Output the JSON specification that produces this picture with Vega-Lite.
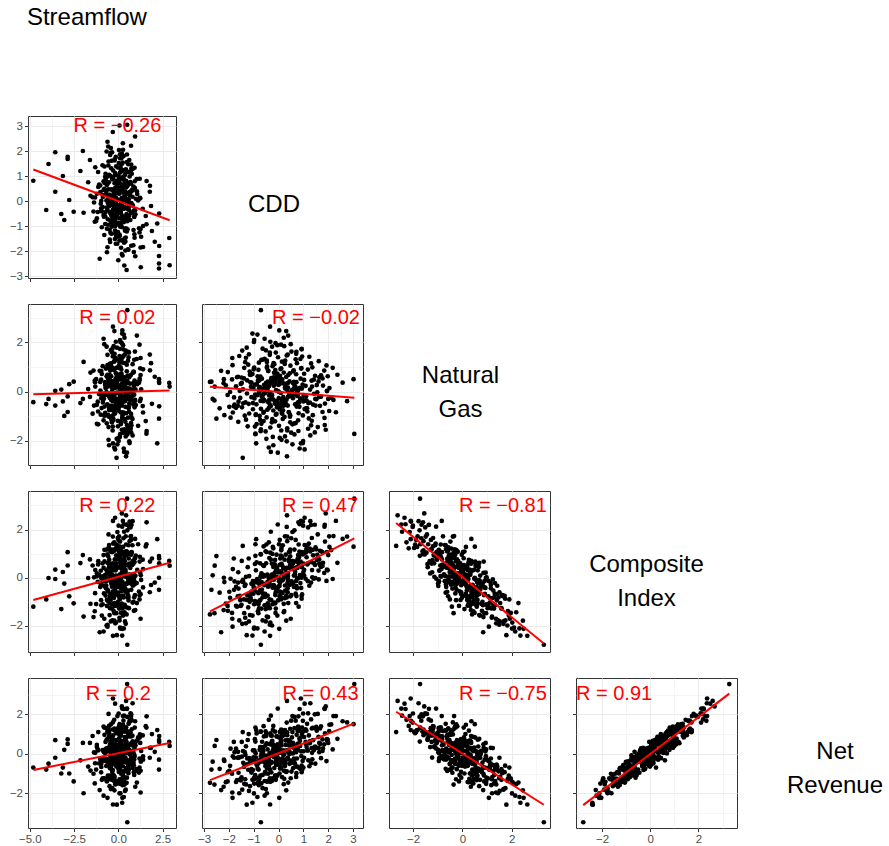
{
"$schema": "https://vega.github.io/schema/vega-lite/v6.json",
"padding": {"left": 8, "top": 5, "right": 0, "bottom": 0},
"background": "white",
"title": {"text": "Streamflow", "anchor": "start", "fontSize": 24, "font": "Liberation Sans", "fontWeight": "normal", "color": "black", "offset": 86, "dx": 18},
"config": {
  "font": "Liberation Sans",
  "view": {"stroke": "#333333", "strokeWidth": 1},
  "axis": {"domain": false, "title": null, "gridColor": "#ebebeb", "tickColor": "#333333", "tickSize": 3.5, "tickWidth": 1, "labelColor": "#4d4d4d", "labelFontSize": 11.5, "labelFont": "Liberation Sans", "labelPadding": 2, "labelOverlap": false, "labelFlush": false, "labelBound": false}
},
"datasets": {"obs": [
{"sf":0.15,"cdd":0.42,"gas":-0.85,"ci":1.07,"nr":0.66},
{"sf":0.52,"cdd":-1.13,"gas":0.37,"ci":-0.81,"nr":-0.33},
{"sf":-0.31,"cdd":0.95,"gas":1.42,"ci":-0.69,"nr":-0.82},
{"sf":0.08,"cdd":-0.27,"gas":-0.12,"ci":0.13,"nr":0.62},
{"sf":0.62,"cdd":1.64,"gas":0.58,"ci":0.59,"nr":0.08},
{"sf":0.34,"cdd":-0.71,"gas":-1.53,"ci":0.97,"nr":1.12},
{"sf":-0.45,"cdd":0.08,"gas":0.91,"ci":-0.67,"nr":-0.70},
{"sf":0.72,"cdd":2.21,"gas":-0.34,"ci":1.73,"nr":1.91},
{"sf":-0.61,"cdd":-1.85,"gas":1.07,"ci":-2.03,"nr":-2.23},
{"sf":-0.05,"cdd":0.56,"gas":-2.14,"ci":1.90,"nr":1.91},
{"sf":0.88,"cdd":-0.38,"gas":0.22,"ci":-0.04,"nr":-0.59},
{"sf":-0.18,"cdd":1.12,"gas":-0.67,"ci":1.19,"nr":1.17},
{"sf":0.27,"cdd":-0.05,"gas":1.88,"ci":-1.57,"nr":-1.11},
{"sf":0.93,"cdd":0.79,"gas":0.05,"ci":0.81,"nr":1.33},
{"sf":0.05,"cdd":-1.42,"gas":-0.48,"ci":-0.18,"nr":-0.46},
{"sf":-0.22,"cdd":0.31,"gas":2.45,"ci":-1.78,"nr":-1.85},
{"sf":-0.74,"cdd":-0.92,"gas":-0.95,"ci":-0.14,"nr":0.03},
{"sf":0.56,"cdd":1.47,"gas":0.64,"ci":0.53,"nr":0.37},
{"sf":0.12,"cdd":-0.14,"gas":-1.21,"ci":0.74,"nr":1.12},
{"sf":0.41,"cdd":0.63,"gas":0.29,"ci":0.33,"nr":-0.30},
{"sf":-1.05,"cdd":-2.31,"gas":0.84,"ci":-2.26,"nr":-1.84},
{"sf":-0.38,"cdd":0.19,"gas":-0.58,"ci":0.41,"nr":0.17},
{"sf":0.49,"cdd":1.86,"gas":-1.36,"ci":2.20,"nr":2.28},
{"sf":0.19,"cdd":-0.56,"gas":1.33,"ci":-1.14,"nr":-1.38},
{"sf":-0.67,"cdd":0.02,"gas":-0.02,"ci":-0.14,"nr":0.27},
{"sf":-0.93,"cdd":-1.05,"gas":0.71,"ci":-1.57,"nr":-1.32},
{"sf":0.22,"cdd":0.87,"gas":-0.29,"ci":1.00,"nr":0.40},
{"sf":-0.14,"cdd":-0.33,"gas":2.02,"ci":-1.86,"nr":-1.42},
{"sf":0.81,"cdd":1.28,"gas":-1.78,"ci":2.35,"nr":2.56},
{"sf":0.46,"cdd":-0.78,"gas":0.13,"ci":-0.25,"nr":-0.38},
{"sf":0.03,"cdd":0.48,"gas":1.05,"ci":-0.77,"nr":-0.34},
{"sf":0.28,"cdd":-1.61,"gas":-0.41,"ci":-0.45,"nr":-0.96},
{"sf":0.95,"cdd":2.58,"gas":0.36,"ci":1.61,"nr":1.65},
{"sf":-0.26,"cdd":-0.21,"gas":-0.77,"ci":0.45,"nr":0.46},
{"sf":0.57,"cdd":0.72,"gas":1.61,"ci":-0.76,"nr":-0.98},
{"sf":-0.09,"cdd":-0.49,"gas":-1.92,"ci":1.38,"nr":1.04},
{"sf":0.36,"cdd":1.03,"gas":0.47,"ci":0.33,"nr":0.85},
{"sf":-0.44,"cdd":-1.27,"gas":-0.08,"ci":-0.92,"nr":-0.53},
{"sf":0.69,"cdd":0.35,"gas":-1.49,"ci":1.71,"nr":1.09},
{"sf":-0.58,"cdd":-0.09,"gas":0.55,"ci":-0.52,"nr":-0.37},
{"sf":0.10,"cdd":1.71,"gas":-0.21,"ci":1.10,"nr":1.39},
{"sf":-0.33,"cdd":-0.64,"gas":1.74,"ci":-1.77,"nr":-1.74},
{"sf":1.22,"cdd":0.13,"gas":-0.39,"ci":0.87,"nr":0.98},
{"sf":0.40,"cdd":-1.98,"gas":-0.62,"ci":-0.58,"nr":-0.87},
{"sf":-0.70,"cdd":0.91,"gas":0.93,"ci":-0.42,"nr":0.12},
{"sf":0.13,"cdd":-0.42,"gas":0.17,"ci":-0.37,"nr":-0.43},
{"sf":-0.51,"cdd":0.24,"gas":-1.03,"ci":0.75,"nr":1.03},
{"sf":0.31,"cdd":-0.85,"gas":2.31,"ci":-2.10,"nr":-2.19},
{"sf":-0.12,"cdd":1.39,"gas":-0.53,"ci":0.93,"nr":0.69},
{"sf":0.82,"cdd":-0.18,"gas":0.76,"ci":-0.33,"nr":0.15},
{"sf":-1.08,"cdd":0.66,"gas":-0.11,"ci":0.12,"nr":-0.49},
{"sf":0.07,"cdd":-1.34,"gas":1.19,"ci":-1.66,"nr":-1.29},
{"sf":-0.24,"cdd":0.44,"gas":0.41,"ci":-0.29,"nr":-0.51},
{"sf":0.49,"cdd":-0.03,"gas":-2.48,"ci":2.21,"nr":2.29},
{"sf":-0.35,"cdd":1.95,"gas":0.02,"ci":1.06,"nr":0.75},
{"sf":-0.16,"cdd":-0.97,"gas":-0.28,"ci":-0.42,"nr":0.17},
{"sf":0.55,"cdd":0.27,"gas":1.25,"ci":-0.53,"nr":-0.88},
{"sf":-0.74,"cdd":-0.61,"gas":-0.86,"ci":0.05,"nr":0.15},
{"sf":0.17,"cdd":1.18,"gas":0.89,"ci":-0.14,"nr":0.17},
{"sf":-0.64,"cdd":-2.05,"gas":-0.14,"ci":-1.17,"nr":-1.40},
{"sf":0.29,"cdd":0.51,"gas":-1.67,"ci":1.64,"nr":1.68},
{"sf":-0.97,"cdd":-0.29,"gas":0.48,"ci":-0.93,"nr":-0.94},
{"sf":0.01,"cdd":0.83,"gas":-0.44,"ci":0.86,"nr":1.17},
{"sf":0.38,"cdd":-1.19,"gas":1.51,"ci":-1.81,"nr":-1.88},
{"sf":-0.43,"cdd":0.05,"gas":-0.73,"ci":0.54,"nr":0.04},
{"sf":0.25,"cdd":1.54,"gas":0.26,"ci":0.74,"nr":1.17},
{"sf":-0.28,"cdd":-0.74,"gas":-1.15,"ci":0.60,"nr":0.34},
{"sf":0.71,"cdd":0.39,"gas":0.67,"ci":-0.10,"nr":0.06},
{"sf":-0.19,"cdd":-1.52,"gas":0.31,"ci":-1.17,"nr":-1.35},
{"sf":-0.62,"cdd":0.98,"gas":-0.97,"ci":0.97,"nr":1.12},
{"sf":0.20,"cdd":-0.12,"gas":1.96,"ci":-1.46,"nr":-1.26},
{"sf":0.04,"cdd":2.04,"gas":-0.79,"ci":1.72,"nr":1.15},
{"sf":0.97,"cdd":-0.53,"gas":0.09,"ci":0.08,"nr":0.42},
{"sf":-0.87,"cdd":0.16,"gas":-0.31,"ci":-0.11,"nr":-0.25},
{"sf":0.15,"cdd":-0.88,"gas":-1.32,"ci":0.64,"nr":1.03},
{"sf":-0.40,"cdd":1.31,"gas":1.14,"ci":-0.20,"nr":-0.48},
{"sf":-0.02,"cdd":-0.36,"gas":-0.04,"ci":-0.18,"nr":0.04},
{"sf":0.48,"cdd":0.59,"gas":0.82,"ci":-0.25,"nr":-0.73},
{"sf":-0.06,"cdd":-1.71,"gas":-0.66,"ci":-0.38,"nr":0.26},
{"sf":-0.53,"cdd":0.75,"gas":-0.18,"ci":0.44,"nr":0.30},
{"sf":0.58,"cdd":-0.02,"gas":1.39,"ci":-0.94,"nr":-0.55},
{"sf":-0.29,"cdd":1.22,"gas":-1.09,"ci":1.42,"nr":0.93},
{"sf":0.26,"cdd":-0.67,"gas":0.52,"ci":-0.49,"nr":-0.29},
{"sf":-1.21,"cdd":0.29,"gas":-0.54,"ci":0.06,"nr":0.45},
{"sf":0.43,"cdd":-1.09,"gas":-0.23,"ci":-0.25,"nr":-0.78},
{"sf":-0.61,"cdd":2.37,"gas":0.68,"ci":0.62,"nr":0.76},
{"sf":0.09,"cdd":-0.23,"gas":-1.84,"ci":1.28,"nr":1.20},
{"sf":0.33,"cdd":0.68,"gas":0.19,"ci":0.40,"nr":0.11},
{"sf":-0.47,"cdd":-0.46,"gas":1.02,"ci":-1.26,"nr":-0.73},
{"sf":0.76,"cdd":1.09,"gas":-0.36,"ci":1.04,"nr":1.24},
{"sf":-0.11,"cdd":-1.38,"gas":0.96,"ci":-1.47,"nr":-1.52},
{"sf":0.39,"cdd":0.10,"gas":-0.06,"ci":0.27,"nr":0.74},
{"sf":-0.36,"cdd":0.47,"gas":-1.25,"ci":1.17,"nr":0.60},
{"sf":0.51,"cdd":-0.81,"gas":0.43,"ci":-0.64,"nr":-0.48},
{"sf":-0.21,"cdd":1.62,"gas":1.23,"ci":-0.07,"nr":0.29},
{"sf":0.62,"cdd":-0.15,"gas":-0.49,"ci":0.56,"nr":0.20},
{"sf":-0.68,"cdd":0.37,"gas":0.34,"ci":-0.44,"nr":-0.25},
{"sf":0.24,"cdd":-2.18,"gas":-0.96,"ci":-0.18,"nr":-0.36},
{"sf":0.06,"cdd":0.94,"gas":0.12,"ci":0.44,"nr":1.00},
{"sf":-0.39,"cdd":-0.58,"gas":-0.35,"ci":-0.25,"nr":-0.33},
{"sf":0.35,"cdd":0.21,"gas":2.18,"ci":-1.43,"nr":-1.54},
{"sf":-0.02,"cdd":-1.24,"gas":-1.41,"ci":0.44,"nr":0.70},
{"sf":-0.89,"cdd":1.43,"gas":-0.09,"ci":0.60,"nr":0.19},
{"sf":0.18,"cdd":-0.07,"gas":0.61,"ci":-0.56,"nr":-0.05},
{"sf":0.44,"cdd":0.81,"gas":-0.88,"ci":1.38,"nr":1.34},
{"sf":-0.57,"cdd":-0.95,"gas":0.28,"ci":-0.97,"nr":-1.27},
{"sf":0.11,"cdd":0.53,"gas":-0.19,"ci":0.63,"nr":0.52},
{"sf":1.38,"cdd":-0.31,"gas":-0.59,"ci":0.75,"nr":0.93},
{"sf":-0.14,"cdd":1.77,"gas":0.53,"ci":0.49,"nr":0.14},
{"sf":0.21,"cdd":-1.56,"gas":0.03,"ci":-0.75,"nr":-0.18},
{"sf":-0.32,"cdd":0.11,"gas":-1.58,"ci":1.14,"nr":1.23},
{"sf":0.05,"cdd":-0.69,"gas":1.28,"ci":-1.28,"nr":-1.50},
{"sf":-1.02,"cdd":0.62,"gas":0.39,"ci":-0.38,"nr":-0.24},
{"sf":0.53,"cdd":-0.26,"gas":-0.16,"ci":0.05,"nr":0.45},
{"sf":0.14,"cdd":1.26,"gas":-0.45,"ci":1.21,"nr":0.54},
{"sf":-0.37,"cdd":-1.03,"gas":-0.72,"ci":-0.14,"nr":0.17},
{"sf":0.30,"cdd":0.33,"gas":1.46,"ci":-0.82,"nr":-0.89},
{"sf":-0.72,"cdd":-0.44,"gas":0.14,"ci":-0.74,"nr":-0.32},
{"sf":0.02,"cdd":0.99,"gas":-2.01,"ci":2.16,"nr":2.04},
{"sf":-0.25,"cdd":-0.13,"gas":0.87,"ci":-0.72,"nr":-1.10},
{"sf":-0.42,"cdd":2.12,"gas":-0.25,"ci":1.15,"nr":1.49},
{"sf":0.68,"cdd":-0.76,"gas":-0.01,"ci":-0.14,"nr":-0.33},
{"sf":-0.13,"cdd":0.45,"gas":0.74,"ci":-0.29,"nr":-0.01},
{"sf":0.16,"cdd":-1.87,"gas":0.49,"ci":-1.46,"nr":-1.01},
{"sf":0.80,"cdd":0.17,"gas":-1.11,"ci":1.35,"nr":0.92},
{"sf":-0.30,"cdd":-0.34,"gas":2.63,"ci":-2.41,"nr":-2.57},
{"sf":-0.78,"cdd":0.73,"gas":-0.61,"ci":0.68,"nr":0.96},
{"sf":0.47,"cdd":-0.52,"gas":-1.62,"ci":1.10,"nr":1.14},
{"sf":0.13,"cdd":1.36,"gas":0.98,"ci":0.02,"nr":-0.28},
{"sf":-0.15,"cdd":-0.04,"gas":-0.42,"ci":0.31,"nr":0.48},
{"sf":0.86,"cdd":-1.16,"gas":0.81,"ci":-1.00,"nr":-0.45},
{"sf":0.37,"cdd":0.58,"gas":-0.27,"ci":0.69,"nr":0.02},
{"sf":-0.48,"cdd":0.25,"gas":1.12,"ci":-0.85,"nr":-0.57},
{"sf":-0.04,"cdd":-0.89,"gas":-0.52,"ci":-0.19,"nr":-0.52},
{"sf":-0.55,"cdd":1.58,"gas":-1.44,"ci":1.80,"nr":2.02},
{"sf":0.00,"cdd":-0.19,"gas":0.23,"ci":-0.08,"nr":-0.02},
{"sf":-0.20,"cdd":0.41,"gas":-0.83,"ci":0.76,"nr":0.43},
{"sf":0.42,"cdd":-1.46,"gas":1.66,"ci":-1.91,"nr":-1.82},
{"sf":-0.34,"cdd":0.86,"gas":0.15,"ci":0.11,"nr":0.65},
{"sf":0.90,"cdd":-0.62,"gas":-0.13,"ci":0.12,"nr":-0.29},
{"sf":-0.60,"cdd":0.06,"gas":0.57,"ci":-0.57,"nr":-0.41},
{"sf":0.58,"cdd":1.15,"gas":-0.68,"ci":1.35,"nr":1.52},
{"sf":0.10,"cdd":-0.98,"gas":2.09,"ci":-2.07,"nr":-1.51},
{"sf":-0.08,"cdd":0.32,"gas":-0.33,"ci":0.41,"nr":0.17},
{"sf":0.31,"cdd":-0.24,"gas":0.44,"ci":-0.41,"nr":0.13},
{"sf":-0.11,"cdd":0.69,"gas":1.31,"ci":-0.66,"nr":-0.64},
{"sf":0.73,"cdd":-1.79,"gas":-0.24,"ci":-0.50,"nr":-0.20},
{"sf":-0.44,"cdd":1.01,"gas":-0.14,"ci":0.59,"nr":0.13},
{"sf":-0.23,"cdd":-0.39,"gas":-2.27,"ci":1.47,"nr":1.72},
{"sf":0.66,"cdd":0.22,"gas":0.32,"ci":0.12,"nr":-0.04},
{"sf":-0.40,"cdd":-0.84,"gas":0.62,"ci":-1.07,"nr":-0.76},
{"sf":0.21,"cdd":1.49,"gas":-0.57,"ci":1.26,"nr":1.28},
{"sf":-0.99,"cdd":-0.11,"gas":-0.94,"ci":0.29,"nr":-0.24},
{"sf":0.45,"cdd":0.54,"gas":0.06,"ci":0.53,"nr":0.83},
{"sf":-0.17,"cdd":-1.31,"gas":1.37,"ci":-1.89,"nr":-1.55},
{"sf":0.19,"cdd":0.12,"gas":-0.47,"ci":0.58,"nr":0.42},
{"sf":-0.31,"cdd":2.76,"gas":-0.39,"ci":1.71,"nr":1.59},
{"sf":0.02,"cdd":-0.47,"gas":0.96,"ci":-1.12,"nr":-1.41},
{"sf":-0.65,"cdd":0.64,"gas":-1.29,"ci":1.17,"nr":1.30},
{"sf":0.38,"cdd":-0.72,"gas":-0.38,"ci":0.05,"nr":-0.40},
{"sf":-0.27,"cdd":0.38,"gas":0.16,"ci":0.07,"nr":0.16},
{"sf":0.55,"cdd":-1.93,"gas":-1.06,"ci":-0.04,"nr":0.26},
{"sf":0.28,"cdd":0.93,"gas":1.71,"ci":-0.75,"nr":-0.93},
{"sf":-0.52,"cdd":-0.06,"gas":-0.64,"ci":0.42,"nr":0.88},
{"sf":0.92,"cdd":1.33,"gas":0.44,"ci":0.65,"nr":0.29},
{"sf":-0.09,"cdd":-0.57,"gas":-0.05,"ci":-0.31,"nr":-0.43},
{"sf":0.42,"cdd":0.26,"gas":-1.82,"ci":1.72,"nr":1.20},
{"sf":-0.64,"cdd":-1.11,"gas":0.19,"ci":-0.92,"nr":-0.38},
{"sf":0.09,"cdd":0.71,"gas":0.70,"ci":-0.13,"nr":0.08},
{"sf":0.27,"cdd":-0.28,"gas":-0.30,"ci":0.10,"nr":-0.41},
{"sf":-0.46,"cdd":1.84,"gas":0.85,"ci":0.20,"nr":0.48},
{"sf":0.11,"cdd":-0.93,"gas":-1.73,"ci":0.91,"nr":0.62},
{"sf":-1.31,"cdd":0.14,"gas":0.38,"ci":-0.64,"nr":-0.48},
{"sf":0.60,"cdd":-0.35,"gas":1.58,"ci":-1.26,"nr":-0.78},
{"sf":-0.03,"cdd":0.77,"gas":-0.46,"ci":0.78,"nr":1.15},
{"sf":0.33,"cdd":-1.67,"gas":0.58,"ci":-1.20,"nr":-1.33},
{"sf":0.79,"cdd":0.46,"gas":-0.07,"ci":0.53,"nr":0.43},
{"sf":-0.36,"cdd":-0.01,"gas":0.27,"ci":-0.37,"nr":0.27},
{"sf":-0.18,"cdd":1.05,"gas":-2.35,"ci":2.49,"nr":2.54},
{"sf":0.24,"cdd":-0.79,"gas":1.17,"ci":-1.27,"nr":-1.59},
{"sf":-1.40,"cdd":-0.42,"gas":0.85,"ci":-1.63,"nr":-1.01},
{"sf":0.09,"cdd":1.13,"gas":-0.37,"ci":0.85,"nr":0.35},
{"sf":-0.31,"cdd":-0.95,"gas":-1.42,"ci":0.57,"nr":0.74},
{"sf":0.64,"cdd":0.27,"gas":0.12,"ci":0.13,"nr":-0.46},
{"sf":-0.46,"cdd":-1.64,"gas":-0.58,"ci":-0.77,"nr":-0.20},
{"sf":-0.21,"cdd":0.71,"gas":1.53,"ci":-1.05,"nr":-1.17},
{"sf":0.72,"cdd":-0.08,"gas":-0.91,"ci":0.96,"nr":0.88},
{"sf":0.96,"cdd":-2.21,"gas":0.34,"ci":-1.34,"nr":-1.67},
{"sf":0.22,"cdd":1.85,"gas":-1.07,"ci":2.12,"nr":2.29},
{"sf":-0.83,"cdd":-0.56,"gas":2.14,"ci":-2.23,"nr":-2.12},
{"sf":0.38,"cdd":0.38,"gas":-0.22,"ci":0.19,"nr":0.69},
{"sf":1.26,"cdd":-1.12,"gas":0.67,"ci":-0.68,"nr":-0.86},
{"sf":0.01,"cdd":0.05,"gas":-1.88,"ci":1.57,"nr":1.11},
{"sf":0.49,"cdd":-0.79,"gas":-0.05,"ci":-0.61,"nr":-1.21},
{"sf":-0.56,"cdd":1.42,"gas":0.48,"ci":-0.04,"nr":0.32},
{"sf":0.33,"cdd":-0.31,"gas":-2.45,"ci":1.91,"nr":1.93},
{"sf":-0.36,"cdd":0.92,"gas":0.95,"ci":0.00,"nr":-0.12},
{"sf":0.92,"cdd":-1.47,"gas":-0.64,"ci":-0.16,"nr":-0.14},
{"sf":-0.25,"cdd":0.14,"gas":1.21,"ci":-0.84,"nr":-1.18},
{"sf":-0.81,"cdd":-0.63,"gas":-0.29,"ci":-0.65,"nr":0.10},
{"sf":0.26,"cdd":2.31,"gas":-0.84,"ci":2.36,"nr":1.91},
{"sf":0.05,"cdd":-0.19,"gas":0.58,"ci":-0.39,"nr":-0.16},
{"sf":1.26,"cdd":-1.86,"gas":1.36,"ci":-1.70,"nr":-1.96},
{"sf":-1.13,"cdd":0.56,"gas":-1.33,"ci":0.69,"nr":1.10},
{"sf":0.20,"cdd":-0.02,"gas":0.02,"ci":0.22,"nr":-0.22},
{"sf":-0.52,"cdd":1.05,"gas":-0.71,"ci":1.36,"nr":1.19},
{"sf":-0.03,"cdd":-0.87,"gas":0.29,"ci":-1.01,"nr":-0.41},
{"sf":0.62,"cdd":0.33,"gas":-2.02,"ci":2.11,"nr":1.58},
{"sf":-0.08,"cdd":-1.28,"gas":1.78,"ci":-2.38,"nr":-2.58},
{"sf":-0.69,"cdd":0.78,"gas":-0.13,"ci":-0.03,"nr":0.21},
{"sf":0.75,"cdd":-0.48,"gas":-1.05,"ci":1.07,"nr":0.53},
{"sf":-0.38,"cdd":1.61,"gas":0.41,"ci":0.30,"nr":0.86},
{"sf":0.34,"cdd":-2.58,"gas":-0.36,"ci":-1.47,"nr":-1.56},
{"sf":-1.57,"cdd":0.21,"gas":0.77,"ci":-1.08,"nr":-0.85},
{"sf":0.56,"cdd":-0.72,"gas":-1.61,"ci":0.98,"nr":1.12},
{"sf":-0.79,"cdd":0.49,"gas":1.92,"ci":-1.70,"nr":-1.24},
{"sf":0.12,"cdd":-1.03,"gas":-0.47,"ci":-0.28,"nr":-0.82},
{"sf":0.43,"cdd":1.27,"gas":0.08,"ci":1.09,"nr":0.64},
{"sf":-0.61,"cdd":-0.35,"gas":1.49,"ci":-1.95,"nr":-1.24},
{"sf":0.99,"cdd":0.09,"gas":-0.55,"ci":0.92,"nr":0.62},
{"sf":-0.14,"cdd":-1.71,"gas":0.21,"ci":-1.16,"nr":-1.43},
{"sf":0.51,"cdd":0.64,"gas":-1.74,"ci":1.97,"nr":1.87},
{"sf":-0.47,"cdd":-0.13,"gas":0.39,"ci":-1.06,"nr":-1.10},
{"sf":-0.66,"cdd":1.98,"gas":0.62,"ci":0.31,"nr":0.71},
{"sf":-0.27,"cdd":-0.91,"gas":-0.93,"ci":0.31,"nr":-0.19},
{"sf":0.81,"cdd":0.42,"gas":-0.17,"ci":0.69,"nr":0.63},
{"sf":-0.88,"cdd":-0.24,"gas":1.03,"ci":-1.10,"nr":-1.25},
{"sf":0.31,"cdd":0.85,"gas":-2.31,"ci":2.22,"nr":2.27},
{"sf":0.08,"cdd":-1.39,"gas":0.53,"ci":-0.90,"nr":-0.67},
{"sf":-0.51,"cdd":0.18,"gas":-0.76,"ci":0.13,"nr":-0.28},
{"sf":0.46,"cdd":-0.66,"gas":0.11,"ci":0.06,"nr":0.61},
{"sf":-0.03,"cdd":1.34,"gas":-1.19,"ci":1.65,"nr":1.28},
{"sf":-1.16,"cdd":-0.44,"gas":-0.41,"ci":-0.17,"nr":0.22},
{"sf":0.23,"cdd":0.03,"gas":2.48,"ci":-2.12,"nr":-2.23},
{"sf":0.57,"cdd":-1.95,"gas":-0.02,"ci":-0.83,"nr":-0.61},
{"sf":-0.74,"cdd":0.97,"gas":0.28,"ci":0.12,"nr":-0.36},
{"sf":0.14,"cdd":-0.27,"gas":-1.25,"ci":0.59,"nr":0.92},
{"sf":1.79,"cdd":0.61,"gas":0.86,"ci":0.67,"nr":0.30},
{"sf":-0.18,"cdd":-1.18,"gas":-0.89,"ci":0.07,"nr":-0.22},
{"sf":0.27,"cdd":2.05,"gas":0.14,"ci":1.28,"nr":1.47},
{"sf":-0.42,"cdd":-0.51,"gas":1.67,"ci":-1.81,"nr":-1.79},
{"sf":0.07,"cdd":0.29,"gas":-0.48,"ci":0.96,"nr":0.96},
{"sf":-1.33,"cdd":-0.83,"gas":0.44,"ci":-1.39,"nr":-1.50},
{"sf":0.69,"cdd":1.19,"gas":-1.51,"ci":2.09,"nr":2.05},
{"sf":0.18,"cdd":-0.05,"gas":0.73,"ci":-0.47,"nr":0.01},
{"sf":-0.48,"cdd":-1.54,"gas":-0.26,"ci":-0.93,"nr":-1.29},
{"sf":0.39,"cdd":0.74,"gas":1.15,"ci":-0.44,"nr":-0.24},
{"sf":-0.94,"cdd":-0.39,"gas":-0.67,"ci":-0.28,"nr":-0.30},
{"sf":0.03,"cdd":1.52,"gas":-0.31,"ci":1.18,"nr":1.36},
{"sf":-0.33,"cdd":-0.98,"gas":0.97,"ci":-1.10,"nr":-1.20},
{"sf":-0.55,"cdd":0.12,"gas":-1.96,"ci":1.24,"nr":1.12},
{"sf":0.88,"cdd":-2.04,"gas":0.79,"ci":-1.37,"nr":-0.93},
{"sf":-0.17,"cdd":0.53,"gas":-0.09,"ci":-0.15,"nr":-0.46},
{"sf":0.21,"cdd":-0.16,"gas":0.31,"ci":0.19,"nr":0.30},
{"sf":1.04,"cdd":0.88,"gas":1.32,"ci":-0.22,"nr":-0.77},
{"sf":-0.39,"cdd":-1.31,"gas":-1.14,"ci":0.04,"nr":0.38},
{"sf":-1.01,"cdd":0.36,"gas":0.04,"ci":-0.22,"nr":-0.29},
{"sf":0.61,"cdd":-0.59,"gas":-0.82,"ci":0.49,"nr":0.88},
{"sf":0.17,"cdd":1.71,"gas":0.66,"ci":0.45,"nr":-0.22},
{"sf":-0.20,"cdd":-0.75,"gas":0.18,"ci":-0.52,"nr":-0.35},
{"sf":1.12,"cdd":0.02,"gas":-1.39,"ci":1.39,"nr":0.83},
{"sf":0.48,"cdd":-1.22,"gas":1.09,"ci":-1.23,"nr":-0.81},
{"sf":-0.62,"cdd":0.67,"gas":-0.52,"ci":0.24,"nr":0.13},
{"sf":-0.05,"cdd":-0.29,"gas":0.54,"ci":-0.08,"nr":-0.46},
{"sf":-0.72,"cdd":1.09,"gas":0.23,"ci":-0.04,"nr":0.60},
{"sf":0.00,"cdd":-2.37,"gas":-0.68,"ci":-0.62,"nr":-0.76},
{"sf":-0.26,"cdd":0.23,"gas":1.84,"ci":-1.38,"nr":-1.27},
{"sf":0.55,"cdd":-0.68,"gas":-0.19,"ci":-0.18,"nr":0.03},
{"sf":-0.44,"cdd":0.46,"gas":-1.02,"ci":1.08,"nr":0.62},
{"sf":1.17,"cdd":-1.09,"gas":0.36,"ci":-0.57,"nr":-0.95},
{"sf":-0.78,"cdd":1.38,"gas":-0.96,"ci":1.16,"nr":1.32},
{"sf":0.75,"cdd":-0.10,"gas":0.06,"ci":0.03,"nr":-0.55},
{"sf":0.13,"cdd":-0.47,"gas":1.25,"ci":-1.12,"nr":-0.57},
{"sf":-0.10,"cdd":0.81,"gas":-0.43,"ci":0.60,"nr":0.45},
{"sf":0.40,"cdd":-1.62,"gas":-1.23,"ci":0.23,"nr":-0.19},
{"sf":-0.14,"cdd":0.15,"gas":0.49,"ci":-0.62,"nr":-0.24},
{"sf":0.95,"cdd":-0.37,"gas":-0.34,"ci":0.82,"nr":0.49},
{"sf":-0.57,"cdd":2.18,"gas":0.96,"ci":-0.05,"nr":0.22},
{"sf":-0.30,"cdd":-0.94,"gas":-0.12,"ci":-0.56,"nr":-1.08},
{"sf":0.86,"cdd":0.58,"gas":0.35,"ci":0.59,"nr":0.55},
{"sf":-0.52,"cdd":-0.21,"gas":-2.18,"ci":1.22,"nr":1.41},
{"sf":0.27,"cdd":1.24,"gas":1.41,"ci":-0.33,"nr":-0.63},
{"sf":1.29,"cdd":-1.43,"gas":0.09,"ci":-0.09,"nr":0.14},
{"sf":0.59,"cdd":0.07,"gas":-0.61,"ci":0.80,"nr":0.20},
{"sf":-0.22,"cdd":-0.81,"gas":0.88,"ci":-1.47,"nr":-1.40},
{"sf":0.25,"cdd":0.95,"gas":-0.28,"ci":1.07,"nr":1.33},
{"sf":-0.40,"cdd":-0.53,"gas":0.19,"ci":-0.79,"nr":-0.62},
{"sf":0.03,"cdd":0.31,"gas":0.59,"ci":-0.74,"nr":-0.92},
{"sf":0.85,"cdd":-1.77,"gas":-0.53,"ci":-0.15,"nr":0.08},
{"sf":0.49,"cdd":1.56,"gas":-0.03,"ci":0.95,"nr":0.30},
{"sf":-0.35,"cdd":-0.11,"gas":1.58,"ci":-1.28,"nr":-1.32},
{"sf":0.72,"cdd":0.69,"gas":-1.28,"ci":1.57,"nr":1.68},
{"sf":0.36,"cdd":-0.62,"gas":-0.39,"ci":0.52,"nr":0.33},
{"sf":-0.68,"cdd":0.26,"gas":0.16,"ci":-0.32,"nr":-0.62},
{"sf":1.20,"cdd":-1.26,"gas":0.45,"ci":-0.73,"nr":-0.24},
{"sf":-0.12,"cdd":1.03,"gas":0.72,"ci":0.09,"nr":-0.20},
{"sf":0.55,"cdd":-0.33,"gas":-1.46,"ci":1.04,"nr":1.03},
{"sf":-0.83,"cdd":0.44,"gas":-0.14,"ci":0.41,"nr":0.11},
{"sf":0.12,"cdd":-0.99,"gas":2.01,"ci":-2.11,"nr":-2.01},
{"sf":0.35,"cdd":0.13,"gas":-0.87,"ci":0.86,"nr":1.19},
{"sf":0.20,"cdd":-2.12,"gas":0.25,"ci":-1.07,"nr":-1.44},
{"sf":0.68,"cdd":0.76,"gas":0.01,"ci":0.41,"nr":0.50},
{"sf":-0.40,"cdd":-0.45,"gas":-0.74,"ci":0.13,"nr":-0.09},
{"sf":0.10,"cdd":1.87,"gas":-0.49,"ci":1.50,"nr":1.04},
{"sf":0.81,"cdd":-0.17,"gas":1.11,"ci":-1.03,"nr":-0.72},
{"sf":0.44,"cdd":0.34,"gas":-2.63,"ci":2.59,"nr":2.68},
{"sf":-0.59,"cdd":-0.73,"gas":0.61,"ci":-0.92,"nr":-1.11},
{"sf":0.94,"cdd":0.52,"gas":1.62,"ci":-0.72,"nr":-0.90},
{"sf":-0.79,"cdd":-1.36,"gas":-0.98,"ci":-0.34,"nr":0.08},
{"sf":-0.07,"cdd":0.04,"gas":0.42,"ci":-0.34,"nr":-0.50},
{"sf":-1.14,"cdd":1.16,"gas":-0.81,"ci":0.55,"nr":0.17},
{"sf":-0.23,"cdd":-0.58,"gas":0.27,"ci":-0.78,"nr":-0.08},
{"sf":0.35,"cdd":-0.25,"gas":-1.12,"ci":0.99,"nr":0.66},
{"sf":1.21,"cdd":0.89,"gas":0.52,"ci":0.67,"nr":0.82},
{"sf":0.07,"cdd":-1.58,"gas":1.44,"ci":-1.77,"nr":-2.00},
{"sf":-0.29,"cdd":0.19,"gas":-0.23,"ci":-0.04,"nr":-0.05},
{"sf":-0.96,"cdd":-0.41,"gas":0.83,"ci":-1.14,"nr":-0.67},
{"sf":0.73,"cdd":1.46,"gas":-1.66,"ci":2.20,"nr":2.00},
{"sf":0.16,"cdd":-0.86,"gas":-0.15,"ci":-0.05,"nr":-0.61},
{"sf":0.53,"cdd":0.62,"gas":0.13,"ci":0.09,"nr":0.42},
{"sf":-1.37,"cdd":-0.06,"gas":-0.57,"ci":0.02,"nr":0.07},
{"sf":-0.49,"cdd":-1.15,"gas":0.68,"ci":-1.55,"nr":-1.64},
{"sf":0.64,"cdd":0.98,"gas":-2.09,"ci":2.33,"nr":1.67},
{"sf":0.25,"cdd":-0.32,"gas":0.33,"ci":-0.31,"nr":-0.11},
{"sf":-0.87,"cdd":0.24,"gas":-0.44,"ci":0.06,"nr":-0.35},
{"sf":-1.21,"cdd":-0.69,"gas":-1.31,"ci":0.18,"nr":0.34},
{"sf":0.29,"cdd":1.79,"gas":0.24,"ci":0.62,"nr":0.27},
{"sf":-0.18,"cdd":-1.01,"gas":0.14,"ci":-0.66,"nr":-0.18},
{"sf":1.05,"cdd":0.39,"gas":2.27,"ci":-1.05,"nr":-1.46},
{"sf":0.60,"cdd":-0.22,"gas":-0.32,"ci":0.12,"nr":0.19},
{"sf":0.04,"cdd":0.84,"gas":-0.62,"ci":1.09,"nr":0.77},
{"sf":0.36,"cdd":-1.49,"gas":0.57,"ci":-1.12,"nr":-1.19},
{"sf":1.24,"cdd":0.11,"gas":0.94,"ci":0.21,"nr":0.55},
{"sf":-0.34,"cdd":-0.54,"gas":-0.06,"ci":-0.67,"nr":-0.92},
{"sf":0.74,"cdd":1.31,"gas":-1.37,"ci":2.19,"nr":1.74},
{"sf":-0.12,"cdd":-0.12,"gas":0.47,"ci":-0.63,"nr":-0.45},
{"sf":0.47,"cdd":-2.76,"gas":0.39,"ci":-1.52,"nr":-1.47},
{"sf":-0.57,"cdd":0.47,"gas":-0.96,"ci":0.89,"nr":1.27},
{"sf":0.90,"cdd":-0.64,"gas":1.29,"ci":-0.81,"nr":-1.07},
{"sf":-0.75,"cdd":0.72,"gas":0.38,"ci":-0.35,"nr":0.21},
{"sf":0.13,"cdd":-0.38,"gas":-0.16,"ci":-0.02,"nr":-0.13},
{"sf":-0.43,"cdd":1.93,"gas":1.06,"ci":-0.13,"nr":-0.37},
{"sf":1.59,"cdd":-0.93,"gas":-1.71,"ci":1.39,"nr":1.33},
{"sf":0.52,"cdd":0.06,"gas":0.64,"ci":-0.21,"nr":-0.75},
{"sf":0.91,"cdd":-1.33,"gas":-0.44,"ci":-0.28,"nr":-0.06},
{"sf":0.17,"cdd":0.57,"gas":0.05,"ci":0.38,"nr":0.47},
{"sf":-0.66,"cdd":-0.26,"gas":1.82,"ci":-1.98,"nr":-1.37},
{"sf":0.40,"cdd":1.11,"gas":-0.19,"ci":1.08,"nr":0.48},
{"sf":-0.16,"cdd":-0.71,"gas":-0.70,"ci":0.07,"nr":-0.12},
{"sf":1.07,"cdd":0.28,"gas":0.30,"ci":0.33,"nr":0.68},
{"sf":1.40,"cdd":-1.84,"gas":-0.85,"ci":0.36,"nr":-0.13},
{"sf":0.09,"cdd":0.93,"gas":1.73,"ci":-0.87,"nr":-0.60},
{"sf":-0.31,"cdd":-0.14,"gas":-0.38,"ci":0.52,"nr":0.40},
{"sf":0.64,"cdd":0.35,"gas":-1.58,"ci":1.52,"nr":0.94},
{"sf":-0.46,"cdd":-0.77,"gas":0.46,"ci":-0.96,"nr":-1.27},
{"sf":-0.21,"cdd":1.67,"gas":-0.58,"ci":1.12,"nr":1.28},
{"sf":0.72,"cdd":-0.46,"gas":0.07,"ci":-0.24,"nr":-0.25},
{"sf":-0.96,"cdd":0.01,"gas":-0.27,"ci":-0.01,"nr":-0.51},
{"sf":0.22,"cdd":-1.05,"gas":2.35,"ci":-2.40,"nr":-2.48},
{"sf":-0.83,"cdd":0.79,"gas":-1.17,"ci":0.94,"nr":1.38},
{"sf":-4.80,"cdd":0.81,"gas":-0.43,"ci":-1.20,"nr":-0.70},
{"sf":-4.07,"cdd":-0.36,"gas":-0.51,"ci":-0.90,"nr":-0.80},
{"sf":-3.94,"cdd":1.48,"gas":-0.30,"ci":-0.01,"nr":-0.50},
{"sf":-3.56,"cdd":1.95,"gas":0.03,"ci":0.34,"nr":0.69},
{"sf":-3.56,"cdd":0.37,"gas":-0.57,"ci":-0.05,"nr":-0.20},
{"sf":-3.22,"cdd":-0.52,"gas":0.08,"ci":-1.30,"nr":-1.00},
{"sf":-3.13,"cdd":1.00,"gas":-0.40,"ci":0.24,"nr":-0.70},
{"sf":-3.05,"cdd":-0.76,"gas":-0.99,"ci":-0.24,"nr":0.20},
{"sf":-2.86,"cdd":1.77,"gas":-0.83,"ci":1.06,"nr":0.73},
{"sf":-2.86,"cdd":1.68,"gas":-0.20,"ci":0.51,"nr":0.50},
{"sf":-2.77,"cdd":0.04,"gas":0.30,"ci":-0.77,"nr":-1.00},
{"sf":-2.52,"cdd":-0.43,"gas":0.40,"ci":-1.06,"nr":-1.40},
{"sf":-2.14,"cdd":1.20,"gas":-0.47,"ci":0.61,"nr":-0.33},
{"sf":-2.00,"cdd":2.00,"gas":-0.30,"ci":0.94,"nr":0.55},
{"sf":-1.96,"cdd":-0.47,"gas":1.20,"ci":-1.61,"nr":-2.00},
{"sf":-1.60,"cdd":1.64,"gas":-0.22,"ci":0.76,"nr":0.55},
{"sf":-1.70,"cdd":0.75,"gas":0.10,"ci":-0.01,"nr":-0.65},
{"sf":-1.45,"cdd":0.15,"gas":-0.90,"ci":0.51,"nr":0.90},
{"sf":-1.30,"cdd":1.35,"gas":0.20,"ci":0.32,"nr":0.05},
{"sf":-1.25,"cdd":-0.80,"gas":0.50,"ci":-1.09,"nr":-0.80},
{"sf":1.27,"cdd":-2.65,"gas":-0.30,"ci":0.10,"nr":-0.40},
{"sf":1.55,"cdd":-0.60,"gas":-1.20,"ci":1.30,"nr":1.40},
{"sf":1.78,"cdd":0.37,"gas":1.50,"ci":-0.60,"nr":-0.20},
{"sf":1.85,"cdd":-0.20,"gas":1.15,"ci":-0.30,"nr":0.30},
{"sf":2.06,"cdd":-1.63,"gas":0.60,"ci":-0.20,"nr":0.10},
{"sf":2.31,"cdd":-0.50,"gas":0.35,"ci":0.60,"nr":0.90},
{"sf":2.31,"cdd":-1.80,"gas":-0.60,"ci":0.80,"nr":0.60},
{"sf":2.30,"cdd":-2.20,"gas":0.50,"ci":0.00,"nr":-0.30},
{"sf":2.30,"cdd":-2.50,"gas":-1.10,"ci":0.90,"nr":0.70},
{"sf":2.30,"cdd":-2.70,"gas":0.40,"ci":-0.50,"nr":-0.80},
{"sf":2.88,"cdd":-1.48,"gas":0.35,"ci":0.70,"nr":0.60},
{"sf":2.90,"cdd":-2.57,"gas":0.20,"ci":0.50,"nr":0.40},
{"sf":1.40,"cdd":-1.00,"gas":0.90,"ci":-0.40,"nr":-0.30},
{"sf":1.60,"cdd":0.80,"gas":-1.60,"ci":2.30,"nr":1.90},
{"sf":1.90,"cdd":-1.20,"gas":-0.50,"ci":0.80,"nr":1.00},
{"sf":1.20,"cdd":0.10,"gas":1.90,"ci":-0.90,"nr":-0.70},
{"sf":2.20,"cdd":-0.90,"gas":-2.10,"ci":1.60,"nr":1.20},
{"sf":0.50,"cdd":3.05,"gas":-1.72,"ci":3.28,"nr":3.53},
{"sf":0.07,"cdd":3.02,"gas":0.50,"ci":1.29,"nr":1.50},
{"sf":-0.10,"cdd":-1.44,"gas":-2.69,"ci":1.32,"nr":1.10},
{"sf":0.51,"cdd":-0.71,"gas":3.30,"ci":-2.78,"nr":-3.47},
{"sf":0.20,"cdd":1.90,"gas":-1.55,"ci":2.67,"nr":2.40},
{"sf":-0.30,"cdd":0.90,"gas":-2.10,"ci":2.36,"nr":2.80}
]},
"data": {"name": "obs"},
"columns": 5,
"spacing": 26,
"bounds": "flush",
"resolve": {"scale": {"x": "independent", "y": "independent"}},
"concat": [
  {"width": 148, "height": 162,
   "encoding": {
    "x": {"field": "sf", "type": "quantitative", "scale": {"domain": [-5.1, 3.26], "nice": false, "zero": false}, "axis": {"values": [-5,-3.75,-2.5,-1.25,0,1.25,2.5], "labels": false, "gridWidth": {"condition": {"test": "abs(datum.value % 2.5) > 0.01", "value": 0.5}, "value": 1}, "tickOpacity": {"condition": {"test": "abs(datum.value % 2.5) > 0.01", "value": 0}, "value": 1}}},
    "y": {"field": "cdd", "type": "quantitative", "scale": {"domain": [-3.08, 3.4], "nice": false, "zero": false}, "axis": {"values": [-3,-2.5,-2,-1.5,-1,-0.5,0,0.5,1,1.5,2,2.5,3], "format": "d", "labelExpr": "abs(datum.value % 1) > 0.01 ? '' : datum.label", "gridWidth": {"condition": {"test": "abs(datum.value % 1) > 0.01", "value": 0.5}, "value": 1}, "tickOpacity": {"condition": {"test": "abs(datum.value % 1) > 0.01", "value": 0}, "value": 1}}}
   },
   "layer": [
    {"mark": {"type": "circle", "color": "black", "size": 22, "opacity": 1}},
    {"transform": [{"regression": "cdd", "on": "sf"}], "mark": {"type": "line", "color": "red", "strokeWidth": 2}, "encoding": {}},
    {"data": {"values": [{"sf": -0.05, "cdd": 3.0, "label": "R = −0.26"}]}, "mark": {"type": "text", "color": "red", "fontSize": 20}, "encoding": {"text": {"field": "label"}}}
   ]},
  {"width": 161, "height": 162, "view": {"stroke": null}, "data": {"values": [{"label": "CDD"}]}, "mark": {"type": "text", "fontSize": 24, "color": "black", "dx": -8.5, "dy": 8, "lineBreak": "\n", "lineHeight": 34}, "encoding": {"text": {"field": "label"}}},
  {"width": 1, "height": 1, "view": {"stroke": null}, "data": {"values": []}, "mark": "point"},
  {"width": 1, "height": 1, "view": {"stroke": null}, "data": {"values": []}, "mark": "point"},
  {"width": 1, "height": 1, "view": {"stroke": null}, "data": {"values": []}, "mark": "point"},

  {"width": 148, "height": 161,
   "encoding": {
    "x": {"field": "sf", "type": "quantitative", "scale": {"domain": [-5.1, 3.26], "nice": false, "zero": false}, "axis": {"values": [-5,-3.75,-2.5,-1.25,0,1.25,2.5], "labels": false, "gridWidth": {"condition": {"test": "abs(datum.value % 2.5) > 0.01", "value": 0.5}, "value": 1}, "tickOpacity": {"condition": {"test": "abs(datum.value % 2.5) > 0.01", "value": 0}, "value": 1}}},
    "y": {"field": "gas", "type": "quantitative", "scale": {"domain": [-2.98, 3.55], "nice": false, "zero": false}, "axis": {"values": [-2,-1,0,1,2,3], "format": "d", "labelExpr": "abs(datum.value % 2) > 0.01 ? '' : datum.label", "gridWidth": {"condition": {"test": "abs(datum.value % 2) > 0.01", "value": 0.5}, "value": 1}, "tickOpacity": {"condition": {"test": "abs(datum.value % 2) > 0.01", "value": 0}, "value": 1}}}
   },
   "layer": [
    {"mark": {"type": "circle", "color": "black", "size": 22, "opacity": 1}},
    {"transform": [{"regression": "gas", "on": "sf"}], "mark": {"type": "line", "color": "red", "strokeWidth": 2}, "encoding": {}},
    {"data": {"values": [{"sf": -0.05, "gas": 2.98, "label": "R = 0.02"}]}, "mark": {"type": "text", "color": "red", "fontSize": 20}, "encoding": {"text": {"field": "label"}}}
   ]},
  {"width": 161, "height": 161,
   "encoding": {
    "x": {"field": "cdd", "type": "quantitative", "scale": {"domain": [-3.08, 3.4], "nice": false, "zero": false}, "axis": {"values": [-3,-2.5,-2,-1.5,-1,-0.5,0,0.5,1,1.5,2,2.5,3], "labels": false, "gridWidth": {"condition": {"test": "abs(datum.value % 1) > 0.01", "value": 0.5}, "value": 1}, "tickOpacity": {"condition": {"test": "abs(datum.value % 1) > 0.01", "value": 0}, "value": 1}}},
    "y": {"field": "gas", "type": "quantitative", "scale": {"domain": [-2.98, 3.55], "nice": false, "zero": false}, "axis": {"values": [-2,-1,0,1,2,3], "labels": false, "gridWidth": {"condition": {"test": "abs(datum.value % 2) > 0.01", "value": 0.5}, "value": 1}, "tickOpacity": {"condition": {"test": "abs(datum.value % 2) > 0.01", "value": 0}, "value": 1}}}
   },
   "layer": [
    {"mark": {"type": "circle", "color": "black", "size": 22, "opacity": 1}},
    {"transform": [{"regression": "gas", "on": "cdd"}], "mark": {"type": "line", "color": "red", "strokeWidth": 2}, "encoding": {}},
    {"data": {"values": [{"cdd": 1.51, "gas": 2.98, "label": "R = −0.02"}]}, "mark": {"type": "text", "color": "red", "fontSize": 20}, "encoding": {"text": {"field": "label"}}}
   ]},
  {"width": 161, "height": 161, "view": {"stroke": null}, "data": {"values": [{"label": "Natural\nGas"}]}, "mark": {"type": "text", "fontSize": 24, "color": "black", "dx": -9, "dy": -8.5, "lineBreak": "\n", "lineHeight": 34}, "encoding": {"text": {"field": "label"}}},
  {"width": 1, "height": 1, "view": {"stroke": null}, "data": {"values": []}, "mark": "point"},
  {"width": 1, "height": 1, "view": {"stroke": null}, "data": {"values": []}, "mark": "point"},

  {"width": 148, "height": 161,
   "encoding": {
    "x": {"field": "sf", "type": "quantitative", "scale": {"domain": [-5.1, 3.26], "nice": false, "zero": false}, "axis": {"values": [-5,-3.75,-2.5,-1.25,0,1.25,2.5], "labels": false, "gridWidth": {"condition": {"test": "abs(datum.value % 2.5) > 0.01", "value": 0.5}, "value": 1}, "tickOpacity": {"condition": {"test": "abs(datum.value % 2.5) > 0.01", "value": 0}, "value": 1}}},
    "y": {"field": "ci", "type": "quantitative", "scale": {"domain": [-3.08, 3.6], "nice": false, "zero": false}, "axis": {"values": [-3,-2,-1,0,1,2,3], "format": "d", "labelExpr": "abs(datum.value % 2) > 0.01 ? '' : datum.label", "gridWidth": {"condition": {"test": "abs(datum.value % 2) > 0.01", "value": 0.5}, "value": 1}, "tickOpacity": {"condition": {"test": "abs(datum.value % 2) > 0.01", "value": 0}, "value": 1}}}
   },
   "layer": [
    {"mark": {"type": "circle", "color": "black", "size": 22, "opacity": 1}},
    {"transform": [{"regression": "ci", "on": "sf"}], "mark": {"type": "line", "color": "red", "strokeWidth": 2}, "encoding": {}},
    {"data": {"values": [{"sf": -0.05, "ci": 2.98, "label": "R = 0.22"}]}, "mark": {"type": "text", "color": "red", "fontSize": 20}, "encoding": {"text": {"field": "label"}}}
   ]},
  {"width": 161, "height": 161,
   "encoding": {
    "x": {"field": "cdd", "type": "quantitative", "scale": {"domain": [-3.08, 3.4], "nice": false, "zero": false}, "axis": {"values": [-3,-2.5,-2,-1.5,-1,-0.5,0,0.5,1,1.5,2,2.5,3], "labels": false, "gridWidth": {"condition": {"test": "abs(datum.value % 1) > 0.01", "value": 0.5}, "value": 1}, "tickOpacity": {"condition": {"test": "abs(datum.value % 1) > 0.01", "value": 0}, "value": 1}}},
    "y": {"field": "ci", "type": "quantitative", "scale": {"domain": [-3.08, 3.6], "nice": false, "zero": false}, "axis": {"values": [-3,-2,-1,0,1,2,3], "labels": false, "gridWidth": {"condition": {"test": "abs(datum.value % 2) > 0.01", "value": 0.5}, "value": 1}, "tickOpacity": {"condition": {"test": "abs(datum.value % 2) > 0.01", "value": 0}, "value": 1}}}
   },
   "layer": [
    {"mark": {"type": "circle", "color": "black", "size": 22, "opacity": 1}},
    {"transform": [{"regression": "ci", "on": "cdd"}], "mark": {"type": "line", "color": "red", "strokeWidth": 2}, "encoding": {}},
    {"data": {"values": [{"cdd": 1.67, "ci": 2.98, "label": "R = 0.47"}]}, "mark": {"type": "text", "color": "red", "fontSize": 20}, "encoding": {"text": {"field": "label"}}}
   ]},
  {"width": 161, "height": 161,
   "encoding": {
    "x": {"field": "gas", "type": "quantitative", "scale": {"domain": [-2.98, 3.55], "nice": false, "zero": false}, "axis": {"values": [-2,-1,0,1,2,3], "labels": false, "gridWidth": {"condition": {"test": "abs(datum.value % 2) > 0.01", "value": 0.5}, "value": 1}, "tickOpacity": {"condition": {"test": "abs(datum.value % 2) > 0.01", "value": 0}, "value": 1}}},
    "y": {"field": "ci", "type": "quantitative", "scale": {"domain": [-3.08, 3.6], "nice": false, "zero": false}, "axis": {"values": [-3,-2,-1,0,1,2,3], "labels": false, "gridWidth": {"condition": {"test": "abs(datum.value % 2) > 0.01", "value": 0.5}, "value": 1}, "tickOpacity": {"condition": {"test": "abs(datum.value % 2) > 0.01", "value": 0}, "value": 1}}}
   },
   "layer": [
    {"mark": {"type": "circle", "color": "black", "size": 22, "opacity": 1}},
    {"transform": [{"regression": "ci", "on": "gas"}], "mark": {"type": "line", "color": "red", "strokeWidth": 2}, "encoding": {}},
    {"data": {"values": [{"gas": 1.64, "ci": 2.98, "label": "R = −0.81"}]}, "mark": {"type": "text", "color": "red", "fontSize": 20}, "encoding": {"text": {"field": "label"}}}
   ]},
  {"width": 161, "height": 161, "view": {"stroke": null}, "data": {"values": [{"label": "Composite\nIndex"}]}, "mark": {"type": "text", "fontSize": 24, "color": "black", "dx": -10, "dy": -7, "lineBreak": "\n", "lineHeight": 34}, "encoding": {"text": {"field": "label"}}},
  {"width": 1, "height": 1, "view": {"stroke": null}, "data": {"values": []}, "mark": "point"},

  {"width": 148, "height": 150,
   "encoding": {
    "x": {"field": "sf", "type": "quantitative", "scale": {"domain": [-5.1, 3.26], "nice": false, "zero": false}, "axis": {"values": [-5,-3.75,-2.5,-1.25,0,1.25,2.5], "format": ".1f", "labelExpr": "abs(datum.value % 2.5) > 0.01 ? '' : datum.label", "gridWidth": {"condition": {"test": "abs(datum.value % 2.5) > 0.01", "value": 0.5}, "value": 1}, "tickOpacity": {"condition": {"test": "abs(datum.value % 2.5) > 0.01", "value": 0}, "value": 1}}},
    "y": {"field": "nr", "type": "quantitative", "scale": {"domain": [-3.76, 3.84], "nice": false, "zero": false}, "axis": {"values": [-3,-2,-1,0,1,2,3], "format": "d", "labelExpr": "abs(datum.value % 2) > 0.01 ? '' : datum.label", "gridWidth": {"condition": {"test": "abs(datum.value % 2) > 0.01", "value": 0.5}, "value": 1}, "tickOpacity": {"condition": {"test": "abs(datum.value % 2) > 0.01", "value": 0}, "value": 1}}}
   },
   "layer": [
    {"mark": {"type": "circle", "color": "black", "size": 22, "opacity": 1}},
    {"transform": [{"regression": "nr", "on": "sf"}], "mark": {"type": "line", "color": "red", "strokeWidth": 2}, "encoding": {}},
    {"data": {"values": [{"sf": 0, "nr": 3.03, "label": "R = 0.2"}]}, "mark": {"type": "text", "color": "red", "fontSize": 20}, "encoding": {"text": {"field": "label"}}}
   ]},
  {"width": 161, "height": 150,
   "encoding": {
    "x": {"field": "cdd", "type": "quantitative", "scale": {"domain": [-3.08, 3.4], "nice": false, "zero": false}, "axis": {"values": [-3,-2.5,-2,-1.5,-1,-0.5,0,0.5,1,1.5,2,2.5,3], "format": "d", "labelExpr": "abs(datum.value % 1) > 0.01 ? '' : datum.label", "gridWidth": {"condition": {"test": "abs(datum.value % 1) > 0.01", "value": 0.5}, "value": 1}, "tickOpacity": {"condition": {"test": "abs(datum.value % 1) > 0.01", "value": 0}, "value": 1}}},
    "y": {"field": "nr", "type": "quantitative", "scale": {"domain": [-3.76, 3.84], "nice": false, "zero": false}, "axis": {"values": [-3,-2,-1,0,1,2,3], "labels": false, "gridWidth": {"condition": {"test": "abs(datum.value % 2) > 0.01", "value": 0.5}, "value": 1}, "tickOpacity": {"condition": {"test": "abs(datum.value % 2) > 0.01", "value": 0}, "value": 1}}}
   },
   "layer": [
    {"mark": {"type": "circle", "color": "black", "size": 22, "opacity": 1}},
    {"transform": [{"regression": "nr", "on": "cdd"}], "mark": {"type": "line", "color": "red", "strokeWidth": 2}, "encoding": {}},
    {"data": {"values": [{"cdd": 1.69, "nr": 3.03, "label": "R = 0.43"}]}, "mark": {"type": "text", "color": "red", "fontSize": 20}, "encoding": {"text": {"field": "label"}}}
   ]},
  {"width": 161, "height": 150,
   "encoding": {
    "x": {"field": "gas", "type": "quantitative", "scale": {"domain": [-2.98, 3.55], "nice": false, "zero": false}, "axis": {"values": [-2,-1,0,1,2,3], "format": "d", "labelExpr": "abs(datum.value % 2) > 0.01 ? '' : datum.label", "gridWidth": {"condition": {"test": "abs(datum.value % 2) > 0.01", "value": 0.5}, "value": 1}, "tickOpacity": {"condition": {"test": "abs(datum.value % 2) > 0.01", "value": 0}, "value": 1}}},
    "y": {"field": "nr", "type": "quantitative", "scale": {"domain": [-3.76, 3.84], "nice": false, "zero": false}, "axis": {"values": [-3,-2,-1,0,1,2,3], "labels": false, "gridWidth": {"condition": {"test": "abs(datum.value % 2) > 0.01", "value": 0.5}, "value": 1}, "tickOpacity": {"condition": {"test": "abs(datum.value % 2) > 0.01", "value": 0}, "value": 1}}}
   },
   "layer": [
    {"mark": {"type": "circle", "color": "black", "size": 22, "opacity": 1}},
    {"transform": [{"regression": "nr", "on": "gas"}], "mark": {"type": "line", "color": "red", "strokeWidth": 2}, "encoding": {}},
    {"data": {"values": [{"gas": 1.64, "nr": 3.03, "label": "R = −0.75"}]}, "mark": {"type": "text", "color": "red", "fontSize": 20}, "encoding": {"text": {"field": "label"}}}
   ]},
  {"width": 161, "height": 150,
   "encoding": {
    "x": {"field": "ci", "type": "quantitative", "scale": {"domain": [-3.08, 3.6], "nice": false, "zero": false}, "axis": {"values": [-3,-2,-1,0,1,2,3], "format": "d", "labelExpr": "abs(datum.value % 2) > 0.01 ? '' : datum.label", "gridWidth": {"condition": {"test": "abs(datum.value % 2) > 0.01", "value": 0.5}, "value": 1}, "tickOpacity": {"condition": {"test": "abs(datum.value % 2) > 0.01", "value": 0}, "value": 1}}},
    "y": {"field": "nr", "type": "quantitative", "scale": {"domain": [-3.76, 3.84], "nice": false, "zero": false}, "axis": {"values": [-3,-2,-1,0,1,2,3], "labels": false, "gridWidth": {"condition": {"test": "abs(datum.value % 2) > 0.01", "value": 0.5}, "value": 1}, "tickOpacity": {"condition": {"test": "abs(datum.value % 2) > 0.01", "value": 0}, "value": 1}}}
   },
   "layer": [
    {"mark": {"type": "circle", "color": "black", "size": 22, "opacity": 1}},
    {"transform": [{"regression": "nr", "on": "ci"}], "mark": {"type": "line", "color": "red", "strokeWidth": 2}, "encoding": {}},
    {"data": {"values": [{"ci": -1.5, "nr": 3.03, "label": "R = 0.91"}]}, "mark": {"type": "text", "color": "red", "fontSize": 20}, "encoding": {"text": {"field": "label"}}}
   ]},
  {"width": 120, "height": 150, "view": {"stroke": null}, "data": {"values": [{"label": "Net\nRevenue"}]}, "mark": {"type": "text", "fontSize": 24, "color": "black", "dx": 12, "dy": -1, "lineBreak": "\n", "lineHeight": 34}, "encoding": {"text": {"field": "label"}}}
]
}
